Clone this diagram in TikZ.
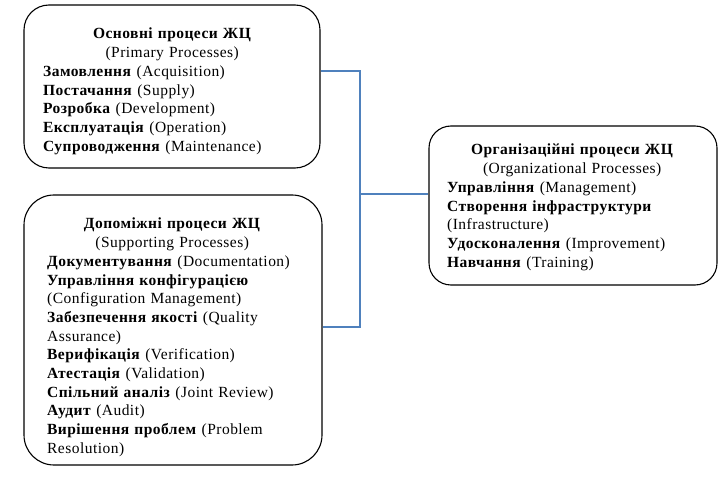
\documentclass[tikz,border=0pt]{standalone}
\usepackage{fontspec}
\setmainfont{Liberation Serif}
\definecolor{linkblue}{HTML}{4F81BD}
\begin{document}
\begin{tikzpicture}[x=1pt,y=-1pt,
  box/.style={draw=black, line width=1.1pt, rounded corners=#1, inner sep=0pt},
  box/.default=25pt,
  txt/.style={inner sep=0pt, anchor=base west, font=\fontsize{15.5}{18.7}\selectfont\addfontfeature{LetterSpace=3}, align=left},
  link/.style={draw=linkblue, line width=2pt}]
\useasboundingbox (0,0) rectangle (720,478);
\node[box=25pt, minimum width=296pt, minimum height=163pt] (prim) at (172,86.5) {};
\node[box=30pt, minimum width=298pt, minimum height=270pt] (supp) at (173,330) {};
\node[box=22pt, minimum width=288pt, minimum height=159pt] (org) at (573,205.5) {};

\node[txt, text width=258pt] (primtxt) at (43,39) {\centering\textbf{Основні процеси ЖЦ}\\(Primary Processes)\par
\raggedright\textbf{Замовлення} (Acquisition)\\
\textbf{Постачання} (Supply)\\
\textbf{Розробка} (Development)\\
\textbf{Експлуатація} (Operation)\\
\textbf{Супроводження} (Maintenance)};

\node[txt, text width=250pt] (supptxt) at (47,229) {\centering\textbf{Допоміжні процеси ЖЦ}\\(Supporting Processes)\par
\raggedright\textbf{Документування} (Documentation)\\
\textbf{Управління конфігурацією}\\
(Configuration Management)\\
\textbf{Забезпечення якості} (Quality\\
Assurance)\\
\textbf{Верифікація} (Verification)\\
\textbf{Атестація} (Validation)\\
\textbf{Спільний аналіз} (Joint Review)\\
\textbf{Аудит} (Audit)\\
\textbf{Вирішення проблем} (Problem\\
Resolution)};

\node[txt, text width=250pt] (orgtxt) at (447,155) {\centering\textbf{Організаційні процеси ЖЦ}\\(Organizational Processes)\par
\raggedright\textbf{Управління} (Management)\\
\textbf{Створення інфраструктури}\\
(Infrastructure)\\
\textbf{Удосконалення} (Improvement)\\
\textbf{Навчання} (Training)};

\coordinate (jtop) at (360,71);
\coordinate (jmid) at (360,194);
\coordinate (jbot) at (360,327);
\draw[link] (jtop -| prim.east) -- (jtop) -- (jbot) -- (jbot -| supp.east);
\draw[link] (jmid) -- (jmid -| org.west);
\end{tikzpicture}
\end{document}
